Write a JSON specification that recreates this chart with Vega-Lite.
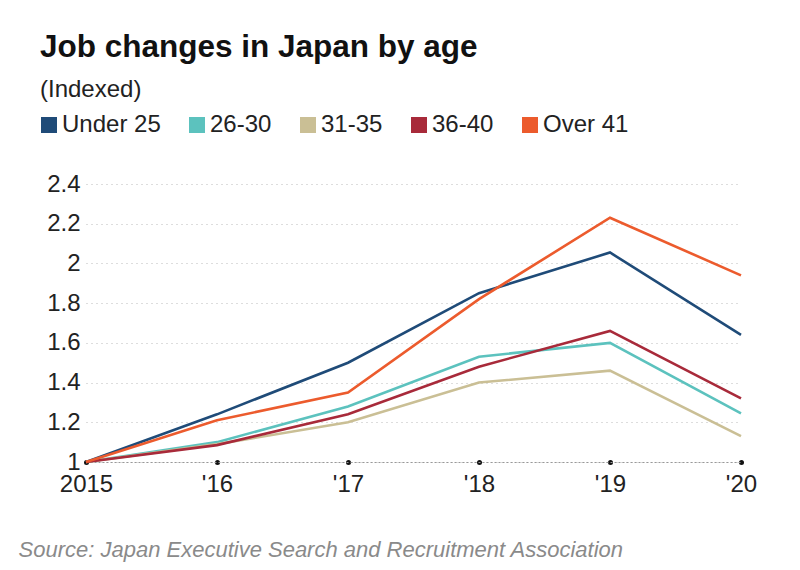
{
  "$schema": "https://vega.github.io/schema/vega-lite/v6.json",
  "autosize": {"type": "none"},
  "width": 655,
  "height": 278,
  "padding": {"left": 86, "top": 184, "right": 59, "bottom": 108},
  "background": "white",
  "config": {
    "font": "Liberation Sans, Arial",
    "view": {"stroke": null}
  },
  "title": {
    "text": "Job changes in Japan by age",
    "subtitle": "(Indexed)",
    "anchor": "start",
    "frame": "group",
    "dx": -46,
    "dy": -7,
    "fontSize": 31.5,
    "fontWeight": "bold",
    "color": "#111111",
    "subtitleFontSize": 24,
    "subtitleColor": "#222222",
    "subtitlePadding": 15
  },
  "data": {
    "values": [
      {"year": 2015, "group": "Under 25", "value": 1.0},
      {"year": 2016, "group": "Under 25", "value": 1.24},
      {"year": 2017, "group": "Under 25", "value": 1.5},
      {"year": 2018, "group": "Under 25", "value": 1.85},
      {"year": 2019, "group": "Under 25", "value": 2.055},
      {"year": 2020, "group": "Under 25", "value": 1.64},
      {"year": 2015, "group": "26-30", "value": 1.0},
      {"year": 2016, "group": "26-30", "value": 1.1},
      {"year": 2017, "group": "26-30", "value": 1.28},
      {"year": 2018, "group": "26-30", "value": 1.53},
      {"year": 2019, "group": "26-30", "value": 1.6},
      {"year": 2020, "group": "26-30", "value": 1.245},
      {"year": 2015, "group": "31-35", "value": 1.0},
      {"year": 2016, "group": "31-35", "value": 1.09},
      {"year": 2017, "group": "31-35", "value": 1.2},
      {"year": 2018, "group": "31-35", "value": 1.4},
      {"year": 2019, "group": "31-35", "value": 1.46},
      {"year": 2020, "group": "31-35", "value": 1.13},
      {"year": 2015, "group": "36-40", "value": 1.0},
      {"year": 2016, "group": "36-40", "value": 1.085},
      {"year": 2017, "group": "36-40", "value": 1.24},
      {"year": 2018, "group": "36-40", "value": 1.48},
      {"year": 2019, "group": "36-40", "value": 1.66},
      {"year": 2020, "group": "36-40", "value": 1.32},
      {"year": 2015, "group": "Over 41", "value": 1.0},
      {"year": 2016, "group": "Over 41", "value": 1.21},
      {"year": 2017, "group": "Over 41", "value": 1.35},
      {"year": 2018, "group": "Over 41", "value": 1.82},
      {"year": 2019, "group": "Over 41", "value": 2.23},
      {"year": 2020, "group": "Over 41", "value": 1.94}
    ]
  },
  "mark": {"type": "line", "strokeWidth": 2.6},
  "encoding": {
    "x": {
      "field": "year",
      "type": "quantitative",
      "scale": {"domain": [2015, 2020], "nice": false, "zero": false},
      "axis": {
        "values": [2015, 2016, 2017, 2018, 2019, 2020],
        "labelExpr": "datum.value == 2015 ? '2015' : \"'\" + format(datum.value % 100, '02d')",
        "labelFontSize": 24,
        "labelColor": "#222222",
        "labelPadding": 10,
        "labelFlush": false,
        "grid": false,
        "domain": true,
        "domainColor": "#999999",
        "domainDash": [2, 2],
        "domainWidth": 1,
        "ticks": true,
        "tickSize": 0.1,
        "tickWidth": 5,
        "tickCap": "round",
        "tickColor": "#111111",
        "title": "Source: Japan Executive Search and Recruitment Association",
        "titleFontSize": 22,
        "titleFontStyle": "italic",
        "titleFontWeight": "normal",
        "titleColor": "#8a8a8a",
        "titleAnchor": "start",
        "titleAlign": "left",
        "titleX": -68,
        "titleY": 99,
        "titleBaseline": "bottom"
      }
    },
    "y": {
      "field": "value",
      "type": "quantitative",
      "scale": {"domain": [1, 2.4], "nice": false, "zero": false},
      "axis": {
        "values": [1, 1.2, 1.4, 1.6, 1.8, 2, 2.2, 2.4],
        "format": "~g",
        "labelFontSize": 24,
        "labelColor": "#222222",
        "labelPadding": 6,
        "labelFlush": false,
        "domain": false,
        "ticks": false,
        "grid": true,
        "gridColor": "#bbbbbb",
        "gridDash": [1, 4],
        "gridWidth": 1.2,
        "title": null
      }
    },
    "color": {
      "field": "group",
      "type": "nominal",
      "scale": {
        "domain": ["Under 25", "26-30", "31-35", "36-40", "Over 41"],
        "range": ["#1f4b78", "#5cc2be", "#cabf95", "#a82a3a", "#ec5b2d"]
      },
      "legend": {
        "orient": "none",
        "legendX": -49,
        "legendY": -71,
        "direction": "horizontal",
        "title": null,
        "symbolType": "square",
        "symbolSize": 256,
        "symbolStrokeWidth": 0,
        "symbolOpacity": 1,
        "labelFontSize": 24,
        "labelColor": "#222222",
        "labelOffset": 1,
        "columnPadding": 24,
        "encode": {
          "symbols": {
            "update": {
              "fill": {"scale": "color", "field": "value"},
              "fillOpacity": {"value": 1},
              "strokeWidth": {"value": 0}
            }
          }
        }
      }
    }
  }
}
